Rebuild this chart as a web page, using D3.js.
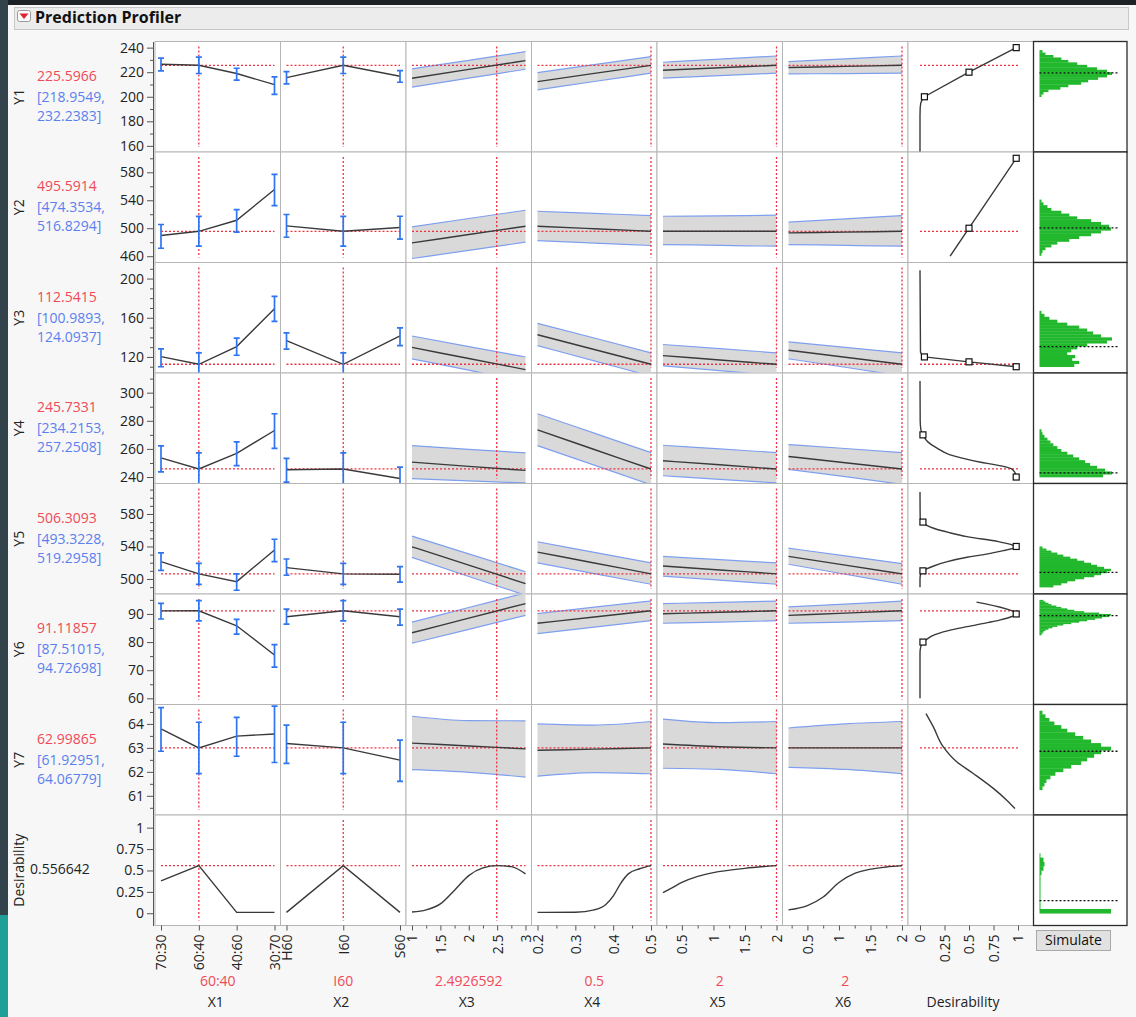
<!DOCTYPE html>
<html>
<head>
<meta charset="utf-8">
<script src="https://cdn.jsdelivr.net/npm/d3@7"></script>
<style>
  body { margin: 0; background: #f7f7f7; overflow: hidden; }
  svg { display: block; }
</style>
</head>
<body>
<svg id="chart" width="1136" height="1017"></svg>
<script>
const responses = ["Y1", "Y2", "Y3", "Y4", "Y5", "Y6", "Y7"];
const predicted = [225.5966, 495.5914, 112.5415, 245.7331, 506.3093, 91.11857, 62.99865];
const predText = ["225.5966", "495.5914", "112.5415", "245.7331", "506.3093", "91.11857", "62.99865"];
const ciLowText = ["[218.9549,", "[474.3534,", "[100.9893,", "[234.2153,", "[493.3228,", "[87.51015,", "[61.92951,"];
const ciHighText = ["232.2383]", "516.8294]", "124.0937]", "257.2508]", "519.2958]", "94.72698]", "64.06779]"];
const desirabilityValue = 0.556642;

const yDomains = [[155, 245], [451, 609], [103.6, 216.4], [235.4, 314], [481.5, 617.5], [57.8, 97.1], [60.2, 64.81]];
const yMajor = [[160, 180, 200, 220, 240], [460, 500, 540, 580], [120, 160, 200], [240, 260, 280, 300], [500, 540, 580], [60, 70, 80, 90], [61, 62, 63, 64]];
const yMinorStep = [10, 20, 10, 10, 10, 5, 0.5];
const desDomain = [-0.143, 1.148];
const desTicks = [0, 0.25, 0.5, 0.75, 1];

// factors
const factorNames = ["X1", "X2", "X3", "X4", "X5", "X6"];
const currentText = ["60:40", "I60", "2.4926592", "0.5", "2", "2"];
const x1Levels = ["70:30", "60:40", "40:60", "30:70"];
const x2Levels = ["H60", "I60", "S60"];
const x1Current = "60:40", x2Current = "I60";
const contDomains = [[1, 3], [0.2, 0.5], [0.2, 2], [0.2, 2]];
const contCurrent = [2.4926592, 0.5, 2, 2];
const contTicks = [[1, 1.5, 2, 2.5, 3], [0.2, 0.3, 0.4, 0.5], [0.5, 1, 1.5, 2], [0.5, 1, 1.5, 2]];
const contMinorStep = [0.25, 0.05, 0.25, 0.25];
const x3Grid = [1, 2, 3];
const x4Grid = [0.2, 0.35, 0.5];
const x5Grid = [0.2, 1.1, 2];
const x6Grid = [0.2, 1.1, 2];

// X1 (categorical) means and intervals, one row per response
const x1Fit = [[226.5, 225.6, 218.9, 209.9], [489.6, 495.6, 511.4, 555.3], [120.3, 112.5, 130.6, 169.2], [253.6, 245.7, 256.9, 273.1], [521.3, 506.3, 496.7, 535.7], [91.1, 91.12, 85.8, 75.4], [63.79, 63.0, 63.49, 63.58]];
const x1Lo = [[221, 218.95, 213.5, 202], [471.4, 474.35, 494.3, 532.4], [110, 100.99, 121.7, 156.2], [243.6, 234.2, 248.1, 260.4], [510.7, 493.3, 486.1, 521.3], [88.2, 87.51, 82.8, 71.1], [62.86, 61.93, 62.65, 62.39]];
const x1Hi = [[231.4, 232.24, 223.2, 216.2], [505.3, 516.83, 526.7, 577.1], [128.2, 124.09, 139.2, 181.8], [262.1, 257.25, 265, 285], [532, 519.3, 506.2, 548.9], [93.8, 94.73, 88.1, 79.1], [64.68, 64.07, 64.27, 64.74]];
// X2 (categorical)
const x2Fit = [[215.6, 225.6, 216.7], [503.4, 495.6, 501], [136.7, 112.5, 141.5], [245.2, 245.7, 239], [513.9, 506.3, 505.8], [89, 91.12, 89], [63.18, 63.0, 62.49]];
const x2Lo = [[210.5, 218.95, 211.8], [487.1, 474.35, 484.3], [127.9, 100.99, 131.6], [236.4, 234.2, 231], [504.6, 493.3, 496], [86.4, 87.51, 86], [62.35, 61.93, 61.6]];
const x2Hi = [[220.5, 232.24, 221.3], [519.6, 516.83, 517.1], [144.6, 124.09, 149.7], [253.3, 257.25, 247], [524.6, 519.3, 515.2], [91.7, 94.73, 91.7], [63.95, 64.07, 63.32]];
// X3..X6 (continuous): fit, lower and upper band at the grid points
const x3Fit = [[215.1, 222.3, 229.4], [479.1, 491, 502.9], [129.7, 118.4, 107.1], [250.6, 247.6, 244.7], [539.6, 517, 494.3], [83.3, 88.5, 93.7], [63.2, 63.08, 62.96]];
const x3Lo = [[207.8, 215.1, 222.4], [456.7, 468.3, 480], [118.1, 106.5, 94.5], [238.9, 237.3, 235.8], [526.5, 503, 480], [79.6, 84.5, 89.5], [62.09, 61.98, 61.78]];
const x3Hi = [[222.7, 229.7, 236.7], [502, 513.9, 525.7], [141.4, 130.6, 119.9], [262.3, 259.7, 257.2], [552.8, 530.8, 508.9], [87.1, 92.3, 97.5], [64.32, 64.14, 64.13]];
const x4Fit = [[212.3, 219.0, 225.6], [502.9, 499.2, 495.6], [142.6, 127.6, 112.5], [273.5, 259.6, 245.7], [533.1, 519.7, 506.3], [86.7, 88.9, 91.12], [62.9, 62.95, 63.0]];
const x4Lo = [[205.6, 212.4, 219.2], [482.4, 478.8, 475.3], [131.6, 116, 100.4], [262.3, 248.5, 234.5], [519.8, 506.6, 493.5], [83, 85.3, 87.6], [61.82, 61.97, 61.92]];
const x4Hi = [[219.7, 226.2, 232.7], [524.3, 521.2, 518.1], [154.3, 139.3, 124.2], [285, 271.2, 257.4], [545.8, 532.8, 519.8], [90.1, 92.4, 94.6], [64.0, 63.95, 64.1]];
const x5Fit = [[221.6, 223.6, 225.6], [495.6, 495.6, 495.6], [121.3, 116.9, 112.5], [251.6, 248.7, 245.7], [515.9, 511.1, 506.3], [90.1, 90.6, 91.12], [63.16, 63.05, 63.0]];
const x5Lo = [[215.1, 217.2, 219.2], [476.7, 475.5, 474.3], [110.8, 106, 101], [240.9, 238.4, 235.8], [503.6, 498.5, 493.5], [86.7, 87.1, 87.6], [62.15, 62.1, 61.92]];
const x5Hi = [[228.1, 230.6, 233.2], [517.1, 517.8, 518.6], [132.7, 128.4, 124.2], [262.6, 260, 257.4], [527.8, 523.8, 519.8], [93.7, 94.1, 94.6], [64.2, 64.05, 64.1]];
const x6Fit = [[223.8, 224.7, 225.6], [493.4, 494.5, 495.6], [126.8, 119.7, 112.5], [254.6, 250.2, 245.7], [527.8, 517, 506.3], [89.5, 90.3, 91.12], [63.0, 63.0, 63.0]];
const x6Lo = [[218.6, 218.9, 219.2], [476.7, 475.5, 474.3], [118.1, 109.5, 100.5], [245.5, 240.3, 234.8], [518.1, 505.8, 493.5], [86.7, 87.1, 87.6], [62.19, 62.1, 61.92]];
const x6Hi = [[228.6, 230.9, 233.2], [508.6, 513.4, 518.1], [135.3, 129.8, 124.2], [263.1, 260.3, 257.4], [537.9, 528.5, 519], [92.5, 93.5, 94.6], [63.83, 64.0, 64.1]];

// desirability row traces
const desX1 = [0.378, 0.5566, 0.01, 0.01];
const desX2 = [0.01, 0.5566, 0.01];
const desX3Grid = [1, 1.25, 1.5, 1.75, 2, 2.25, 2.5, 2.75, 3];
const desX3 = [0.015, 0.04, 0.11, 0.27, 0.44, 0.53, 0.556, 0.545, 0.46];
const desX4Grid = [0.2, 0.3, 0.35, 0.38, 0.4, 0.42, 0.44, 0.47, 0.5];
const desX4 = [0.01, 0.012, 0.04, 0.1, 0.2, 0.35, 0.46, 0.52, 0.5566];
const desX5Grid = [0.2, 0.35, 0.5, 0.75, 1, 1.5, 2];
const desX5 = [0.24, 0.3, 0.36, 0.43, 0.475, 0.525, 0.5566];
const desX6Grid = [0.2, 0.5, 0.75, 1, 1.25, 1.5, 1.75, 2];
const desX6 = [0.04, 0.09, 0.19, 0.36, 0.465, 0.515, 0.54, 0.5566];

// desirability functions: response value -> desirability
const desFnV = [
  [155, 185, 191, 195, 198, 200, 220, 240],
  [460, 500, 600],
  [110, 115, 120, 122, 125, 208.5],
  [240, 243, 246, 248.8, 250.5, 253.6, 256, 260.7, 265, 270, 274, 280, 308.3],
  [489.7, 500, 507, 510, 512, 516, 521, 526.7, 530, 533.6, 537, 540, 542, 546, 552.1, 557, 562.4, 566, 570, 572, 575, 607],
  [60, 76, 78.5, 80, 81, 82.5, 84, 85.5, 87, 87.9, 89, 90, 94.2],
  [60.47, 60.82, 61.31, 61.93, 62.42, 63.04, 63.875, 64.43]
];
const desFnD = [
  [0, 0, 0.002, 0.008, 0.025, 0.045, 0.5, 0.9817],
  [0.307, 0.5, 0.9817],
  [0.9817, 0.5, 0.045, 0.02, 0.005, 0],
  [0.9817, 0.97, 0.93, 0.76, 0.62, 0.42, 0.3, 0.17, 0.08, 0.03, 0.008, 0.002, 0],
  [0, 0, 0.008, 0.03, 0.06, 0.14, 0.27, 0.48, 0.65, 0.8, 0.93, 0.9817, 0.94, 0.8, 0.48, 0.3, 0.14, 0.07, 0.03, 0.01, 0.002, 0],
  [0, 0, 0.008, 0.03, 0.07, 0.14, 0.28, 0.48, 0.7, 0.82, 0.93, 0.9817, 0.577],
  [0.969, 0.885, 0.748, 0.544, 0.374, 0.238, 0.136, 0.061]
];
const desSmooth = [false, false, false, true, true, true, true];
const desMarkV = [[200, 220, 240], [500, 600], [120, 115, 110], [270, 240], [510, 540, 570], [80, 90], []];
const desMarkD = [[0.045, 0.5, 0.9817], [0.5, 0.9817], [0.045, 0.5, 0.9817], [0.03, 0.9817], [0.03, 0.9817, 0.03], [0.03, 0.9817], []];

// simulated distributions (bottom bin, bin width, relative counts bottom->top, mean)
const histStart = [200, 461, 110, 240, 490, 82.5, 61.25, 0];
const histStep = [2, 4, 3, 2, 2.5, 0.5, 0.15, 0.05];
const histCounts = [
  [2, 4, 9, 21, 29, 42, 49, 59, 68, 73, 68, 58, 48, 38, 29, 22, 14, 6, 3],
  [2, 3, 6, 12, 18, 30, 40, 52, 62, 72, 70, 62, 52, 38, 30, 22, 12, 8, 4, 2],
  [35, 40, 33, 36, 28, 32, 38, 48, 68, 73, 62, 54, 48, 40, 28, 18, 10, 5, 2],
  [64, 73, 66, 58, 51, 46, 40, 34, 28, 22, 18, 14, 11, 8, 5, 3, 2],
  [14, 22, 28, 36, 45, 55, 62, 68, 72, 65, 58, 52, 45, 38, 31, 24, 18, 12, 7, 3],
  [2, 3, 4, 6, 9, 13, 18, 24, 32, 40, 48, 56, 63, 70, 72, 60, 45, 35, 28, 22, 17, 12, 9, 6, 4],
  [3, 5, 7, 11, 16, 24, 32, 42, 48, 55, 62, 72, 62, 52, 44, 36, 28, 22, 15, 10, 6, 3],
  [72, 1, 1, 1, 1, 1, 1, 1, 1, 2, 4, 5, 4, 1]
];
const histMean = [219.4, 500.6, 130.6, 242.9, 508.2, 89.4, 62.86, 0.147];

// ---- layout ----
const FONT = "'Segoe UI', 'Open Sans', 'Noto Sans', sans-serif";
const W = 1136, H = 1017;
const colLeft = 155, colW = 125.5, rowTop = 41.5, rowH = 110.5;
const histLeft = colLeft + 7 * colW, histW = 93.5;
const cx = c => colLeft + c * colW;
const ry = r => rowTop + r * rowH;
const fmt = d => String(d);

const RED = "#f0313f", RED_TXT = "#f04a58", BLUE_TXT = "#5b80f0";
const BAR_BLUE = "#2f74f0", BAND = "#d9d9d9", BAND_EDGE = "#7e9ff0";
const LINE = "#3a3a3a", GREEN = "#22b82d";

const svg = d3.select("#chart").attr("font-family", FONT);

// page background
svg.append("rect").attr("width", W).attr("height", H).attr("fill", "#f7f7f7");
svg.append("rect").attr("width", W).attr("height", 5).attr("fill", "#1c2226");
svg.append("rect").attr("width", 8).attr("height", 915).attr("fill", "#33434b");
svg.append("rect").attr("y", 915).attr("width", 8).attr("height", H - 915).attr("fill", "#1f9f98");

// title bar
svg.append("rect").attr("x", 14.5).attr("y", 7.5).attr("width", 1114).attr("height", 22)
  .attr("fill", "#ececec").attr("stroke", "#c8c8c8");
svg.append("rect").attr("x", 17.5).attr("y", 10.5).attr("width", 13).attr("height", 11).attr("rx", 2)
  .attr("fill", "#fafafa").attr("stroke", "#9a9a9a");
svg.append("path").attr("d", "M19.5,13.5 L28.5,13.5 L24,19 Z").attr("fill", "#e0222e");
svg.append("text").attr("x", 35).attr("y", 18.5).attr("dominant-baseline", "middle")
  .style("font-size", "16px").style("font-weight", "bold").attr("fill", "#111")
  .text("Prediction Profiler");

// scales
const xScales = [
  d3.scalePoint().domain(x1Levels).range([cx(0) + 6, cx(1) - 6]),
  d3.scalePoint().domain(x2Levels).range([cx(1) + 6, cx(2) - 6]),
  ...contDomains.map((dom, i) => d3.scaleLinear().domain(dom).range([cx(i + 2) + 6, cx(i + 3) - 6]))
];
const dScale = d3.scaleLinear().domain([0, 1]).range([cx(6) + 12, cx(6) + 110]);
const yScales = yDomains.map((dom, r) => d3.scaleLinear().domain(dom).range([ry(r + 1), ry(r)]));
yScales.push(d3.scaleLinear().domain(desDomain).range([ry(8), ry(7)]));
const histX = d3.scaleLinear().domain([0, 73]).range([0, 72.5]);

const contGrids = [x3Grid, x4Grid, x5Grid, x6Grid];
const contFit = [x3Fit, x4Fit, x5Fit, x6Fit];
const contLo = [x3Lo, x4Lo, x5Lo, x6Lo];
const contHi = [x3Hi, x4Hi, x5Hi, x6Hi];
const desGrids = [desX3Grid, desX4Grid, desX5Grid, desX6Grid];
const desVals = [desX3, desX4, desX5, desX6];

const defs = svg.append("defs");

// cells
for (let r = 0; r < 8; r++) {
  for (let c = 0; c < 7; c++) {
    svg.append("rect").attr("x", cx(c)).attr("y", ry(r)).attr("width", colW).attr("height", rowH)
      .attr("fill", "#fff").attr("stroke", "#b5b5b5");
    defs.append("clipPath").attr("id", `clip-${r}-${c}`)
      .append("rect").attr("x", cx(c) + 0.5).attr("y", ry(r) + 0.5).attr("width", colW - 1).attr("height", rowH - 1);
  }
  svg.append("rect").attr("x", histLeft).attr("y", ry(r)).attr("width", histW).attr("height", rowH)
    .attr("fill", "#fff").attr("stroke", "#2b2b2b").attr("stroke-width", 1.3);
}

const dotted = sel => sel.attr("stroke", RED).attr("stroke-width", 1.3).attr("stroke-dasharray", "2,2").attr("fill", "none");

// panels
for (let r = 0; r < 8; r++) {
  const ys = yScales[r];
  const isDes = r === 7;
  const yNow = isDes ? desirabilityValue : predicted[r];

  for (let c = 0; c < 6; c++) {
    const g = svg.append("g").attr("clip-path", `url(#clip-${r}-${c})`);
    const xs = xScales[c];
    const xr = xs.range();

    // confidence band for continuous factors
    if (!isDes && c >= 2) {
      const k = c - 2;
      const pts = contGrids[k].map((x, i) => ({ x, fit: contFit[k][r][i], lo: contLo[k][r][i], hi: contHi[k][r][i] }));
      g.append("path").datum(pts)
        .attr("d", d3.area().x(d => xs(d.x)).y0(d => ys(d.lo)).y1(d => ys(d.hi)).curve(d3.curveMonotoneX))
        .attr("fill", BAND);
      ["lo", "hi"].forEach(key => {
        g.append("path").datum(pts)
          .attr("d", d3.line().x(d => xs(d.x)).y(d => ys(d[key])).curve(d3.curveMonotoneX))
          .attr("fill", "none").attr("stroke", BAND_EDGE).attr("stroke-width", 1.2);
      });
    }

    // red reference lines
    const xNow = c === 0 ? xs(x1Current) : c === 1 ? xs(x2Current) : xs(contCurrent[c - 2]);
    g.append("line").attr("x1", xr[0]).attr("x2", xr[1]).attr("y1", ys(yNow)).attr("y2", ys(yNow)).call(dotted);
    g.append("line").attr("x1", xNow).attr("x2", xNow).attr("y1", ry(r) + 5).attr("y2", ry(r + 1) - 5).call(dotted);

    // profile trace
    let pts;
    if (c < 2) {
      const levels = c === 0 ? x1Levels : x2Levels;
      const vals = isDes ? (c === 0 ? desX1 : desX2) : (c === 0 ? x1Fit[r] : x2Fit[r]);
      pts = levels.map((l, i) => [xs(l), ys(vals[i])]);
      g.append("path").attr("d", d3.line()(pts)).attr("fill", "none").attr("stroke", LINE).attr("stroke-width", 1.4);
    } else {
      const k = c - 2;
      const grid = isDes ? desGrids[k] : contGrids[k];
      const vals = isDes ? desVals[k] : contFit[k][r];
      pts = grid.map((x, i) => [xs(x), ys(vals[i])]);
      g.append("path").attr("d", d3.line().curve(d3.curveMonotoneX)(pts))
        .attr("fill", "none").attr("stroke", LINE).attr("stroke-width", 1.4);
    }

    // error bars for categorical factors
    if (!isDes && c < 2) {
      const levels = c === 0 ? x1Levels : x2Levels;
      const lo = c === 0 ? x1Lo[r] : x2Lo[r];
      const hi = c === 0 ? x1Hi[r] : x2Hi[r];
      levels.forEach((l, i) => {
        const x = xs(l);
        const eb = g.append("g").attr("stroke", BAR_BLUE).attr("stroke-width", 1.7);
        eb.append("line").attr("x1", x).attr("x2", x).attr("y1", ys(lo[i])).attr("y2", ys(hi[i]));
        eb.append("line").attr("x1", x - 3).attr("x2", x + 3).attr("y1", ys(lo[i])).attr("y2", ys(lo[i]));
        eb.append("line").attr("x1", x - 3).attr("x2", x + 3).attr("y1", ys(hi[i])).attr("y2", ys(hi[i]));
      });
    }
  }

  // desirability function column
  if (!isDes) {
    const g = svg.append("g").attr("clip-path", `url(#clip-${r}-6)`);
    g.append("line").attr("x1", dScale(0)).attr("x2", dScale(1)).attr("y1", ys(yNow)).attr("y2", ys(yNow)).call(dotted);
    const pts = desFnV[r].map((v, i) => [dScale(desFnD[r][i]), ys(v)]);
    const ln = d3.line().curve(desSmooth[r] ? d3.curveMonotoneY : d3.curveLinear);
    g.append("path").attr("d", ln(pts)).attr("fill", "none").attr("stroke", LINE).attr("stroke-width", 1.4);
    desMarkV[r].forEach((v, i) => {
      g.append("rect").attr("x", dScale(desMarkD[r][i]) - 3).attr("y", ys(v) - 3)
        .attr("width", 6).attr("height", 6).attr("fill", "#fff").attr("stroke", "#111").attr("stroke-width", 1.2);
    });
  }

  // simulated distribution
  const hg = svg.append("g");
  const x0 = histLeft + 6;
  histCounts[r].forEach((n, i) => {
    const lo = histStart[r] + i * histStep[r], hi = lo + histStep[r];
    hg.append("rect").attr("x", x0).attr("y", ys(hi)).attr("width", Math.max(histX(n), 1))
      .attr("height", Math.abs(ys(lo) - ys(hi)) + 0.3).attr("fill", GREEN);
  });
  hg.append("line").attr("x1", x0).attr("x2", x0 + 78).attr("y1", ys(histMean[r])).attr("y2", ys(histMean[r]))
    .attr("stroke", "#111").attr("stroke-width", 1.3).attr("stroke-dasharray", "2,2");

  // y axis
  const ax = svg.append("g").attr("transform", "translate(153,0)").attr("color", "#555");
  if (!isDes) {
    const [d0, d1] = yDomains[r];
    const step = yMinorStep[r];
    const minor = d3.range(Math.ceil(d0 / step) * step, d1, step).filter(v => !yMajor[r].some(m => Math.abs(m - v) < 1e-9));
    ax.append("g").call(d3.axisLeft(ys).tickValues(minor).tickSize(3).tickSizeOuter(0).tickFormat(""));
  }
  ax.append("g").call(d3.axisLeft(ys).tickValues(isDes ? desTicks : yMajor[r]).tickSize(6).tickSizeOuter(0).tickFormat(fmt))
    .attr("font-family", FONT).attr("font-size", 14)
    .selectAll("text").attr("fill", "#222");

  // row labels
  const mid = ry(r) + rowH / 2;
  svg.append("text").attr("transform", `translate(20,${mid}) rotate(-90)`).attr("text-anchor", "middle")
    .attr("dominant-baseline", "middle").style("font-size", "14px").attr("fill", "#222")
    .text(isDes ? "Desirability" : responses[r]);
  if (isDes) {
    svg.append("text").attr("x", 30).attr("y", mid).attr("dominant-baseline", "middle")
      .style("font-size", "14px").attr("fill", "#222").text(desirabilityValue.toString());
  } else {
    svg.append("text").attr("x", 37).attr("y", mid - 20).attr("dominant-baseline", "middle")
      .style("font-size", "14px").attr("fill", RED_TXT).text(predText[r]);
    svg.append("text").attr("x", 37).attr("y", mid + 1).attr("dominant-baseline", "middle")
      .style("font-size", "14px").attr("fill", BLUE_TXT).text(ciLowText[r]);
    svg.append("text").attr("x", 37).attr("y", mid + 20).attr("dominant-baseline", "middle")
      .style("font-size", "14px").attr("fill", BLUE_TXT).text(ciHighText[r]);
  }
}

// bottom axes
function bottomAxis(scale, major, minor) {
  const g = svg.append("g").attr("transform", `translate(0,${ry(8)})`).attr("color", "#555");
  if (minor && minor.length) {
    g.append("g").call(d3.axisBottom(scale).tickValues(minor).tickSize(3).tickFormat(""))
      .call(s => s.select(".domain").remove());
  }
  const a = g.append("g").call(d3.axisBottom(scale).tickValues(major).tickSize(5).tickFormat(fmt))
    .attr("font-family", FONT).attr("font-size", 14);
  a.select(".domain").remove();
  a.selectAll("text").attr("transform", "rotate(-90)").attr("text-anchor", "end")
    .attr("x", -9).attr("y", 0).attr("dy", "0.35em").attr("fill", "#222");
}
bottomAxis(xScales[0], x1Levels);
bottomAxis(xScales[1], x2Levels);
contDomains.forEach((dom, k) => {
  const st = contMinorStep[k];
  const minor = d3.range(Math.ceil(dom[0] / st - 1e-9) * st, dom[1] + 1e-9, st)
    .filter(v => !contTicks[k].some(m => Math.abs(m - v) < 1e-9));
  bottomAxis(xScales[k + 2], contTicks[k], minor);
});
bottomAxis(dScale, desTicks);

// factor names and current settings
factorNames.forEach((name, c) => {
  const mx = cx(c) + colW / 2;
  svg.append("text").attr("x", mx).attr("y", 982).attr("text-anchor", "middle").attr("dominant-baseline", "middle")
    .style("font-size", "14px").attr("fill", RED_TXT).text(currentText[c]);
  svg.append("text").attr("x", mx - 2).attr("y", 1003).attr("text-anchor", "middle").attr("dominant-baseline", "middle")
    .style("font-size", "14px").attr("fill", "#222").text(name);
});
svg.append("text").attr("x", cx(6) + 55).attr("y", 1003).attr("text-anchor", "middle").attr("dominant-baseline", "middle")
  .style("font-size", "14px").attr("fill", "#222").text("Desirability");

// simulate button
svg.append("rect").attr("x", 1036.5).attr("y", 930.5).attr("width", 74).attr("height", 20)
  .attr("fill", "#e1e1e1").attr("stroke", "#a8a8a8");
svg.append("text").attr("x", 1073.5).attr("y", 941).attr("text-anchor", "middle").attr("dominant-baseline", "middle")
  .style("font-size", "14px").attr("fill", "#111").text("Simulate");
</script>
</body>
</html>
